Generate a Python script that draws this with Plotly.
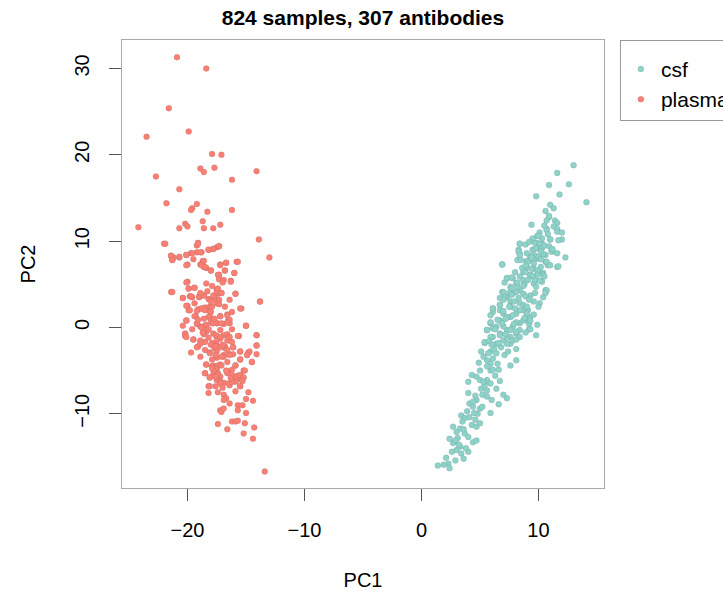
import plotly.graph_objects as go

title_text = "824 samples, 307 antibodies"
groups = ["csf", "plasma"]
colors = {"csf": "#8DD3C7", "plasma": "#FB8072"}
x_ticks = [-20, -10, 0, 10]
y_ticks = [-10, 0, 10, 20, 30]

plasma_pc1 = [
    -20.9, -18.4, -21.6, -19.9, -23.5, -17.9, -17.1, -18.9, -17.7, -18.6, -14.1, -22.7, -16.2, -20.7,
    -21.8, -19.2, -19.6, -19.7, -18.3, -16.2, -18.7, -24.2, -20.7, -20.2, -20.0, -18.6, -17.8, -17.2,
    -13.9, -22.0, -19.1, -19.2, -17.3, -17.5, -18.2, -17.8, -20.1, -19.7, -19.2, -18.8, -21.4, -21.3,
    -21.2, -20.7, -13.0, -18.7, -18.9, -18.6, -18.4, -20.0, -17.2, -16.7, -15.8, -18.0, -16.8, -16.0,
    -17.3, -17.3, -16.3, -20.0, -21.4, -19.9, -19.4, -17.5, -17.4, -17.1, -15.9, -20.4, -19.8, -19.6,
    -19.0, -18.6, -18.2, -17.7, -13.8, -20.0, -19.9, -19.1, -18.8, -18.5, -18.1, -18.1, -15.4, -19.3,
    -18.1, -17.2, -16.6, -20.1, -16.5, -16.4, -19.2, -18.9, -18.5, -17.9, -17.5, -16.9, -15.0, -20.2,
    -20.2, -18.4, -17.8, -17.5, -16.9, -16.6, -15.6, -14.1,
    -17.2, -16.4, -19.5, -18.9, -18.5, -19.1, -17.9, -17.5, -17.7, -14.1, -16.1, -16.8, -18.1, -17.5,
    -16.9, -16.4, -16.1, -15.5, -14.8, -14.9, -14.1, -17.5, -16.9, -15.5, -14.5, -18.4, -17.8, -17.2,
    -17.5, -15.9, -18.5, -17.8, -17.4, -17.2, -17.5, -17.2, -16.5, -16.2, -15.2, -16.1, -15.7, -15.4,
    -15.5, -18.1, -16.9, -16.4, -15.9, -18.2, -15.5, -18.2, -17.4, -16.9, -16.7, -16.9, -15.9, -14.8,
    -15.0, -14.4, -16.4, -15.7, -15.3, -17.2, -17.1, -16.9, -15.7, -15.0, -17.4, -16.2, -15.9, -15.7,
    -15.1, -16.6, -14.3, -15.2, -14.4, -13.4,
    -21.9, -19.1, -17.3, -17.8, -18.2, -18.9, -19.6, -20.1, -21.4, -21.3, -20.7, -18.6, -18.8, -18.5,
    -18.0, -20.1, -17.2, -16.7, -15.7, -16.8, -16.0, -17.4, -17.3, -16.9, -16.3, -20.1, -21.3, -19.9,
    -19.4, -19.7, -20.4, -19.0, -18.6, -18.1, -17.8, -17.5, -17.4, -17.1, -17.3, -17.5, -15.9, -13.8,
    -20.1, -19.8, -19.2, -18.8, -18.5, -17.9, -18.0, -15.5, -19.4, -20.1, -18.2, -18.0, -17.2, -16.6,
    -16.4, -16.6, -17.5, -17.8, -17.1, -19.2, -18.8, -18.4, -18.2, -15.0, -20.2, -20.1, -19.5, -18.9,
    -18.6, -17.6, -17.5, -17.2, -16.6, -16.4, -16.2, -15.7, -14.1, -19.2, -18.9, -18.0, -17.6, -17.2,
    -16.8, -16.1, -14.1, -18.1, -17.6, -17.1, -16.4, -15.5, -14.7, -14.9, -15.5, -14.5, -18.4, -17.9,
    -17.4, -17.6, -17.1, -15.9, -18.5, -17.8, -17.4, -17.6, -18.1, -16.6, -16.2, -15.8, -15.5, -15.1,
    -15.2, -18.1, -17.2, -16.5, -16.2, -15.5,
    -19.5, -18.4, -17.9, -18.9, -18.0, -17.3, -19.4, -16.8, -18.6, -17.7, -16.2, -19.6, -18.7, -17.2,
    -16.2, -18.2, -16.6, -17.0, -18.5, -19.7, -17.9, -16.6, -18.9, -16.7, -17.6, -16.3, -17.9, -17.0,
    -15.3, -20.4, -19.1, -17.0, -18.3, -16.4,
]
plasma_pc2 = [
    31.3, 30.0, 25.4, 22.7, 22.1, 20.1, 20.0, 18.4, 18.5, 18.0, 18.1, 17.5, 17.1, 16.0,
    14.4, 14.3, 13.8, 13.6, 13.4, 13.6, 12.3, 11.6, 11.5, 12.0, 11.7, 11.5, 11.5, 11.9,
    10.2, 9.7, 9.8, 9.5, 9.4, 9.3, 9.0, 9.1, 8.4, 8.6, 8.7, 8.7, 8.3, 7.8,
    8.1, 8.1, 8.1, 7.7, 7.3, 7.0, 6.9, 7.3, 7.3, 7.5, 7.6, 6.6, 6.6, 6.3,
    6.1, 5.6, 5.4, 5.3, 4.1, 4.5, 4.6, 4.4, 3.9, 4.0, 3.9, 3.4, 3.6, 3.5,
    3.5, 3.7, 3.3, 3.4, 3.0, 2.5, 2.0, 2.1, 2.2, 2.3, 2.4, 1.9, 2.2, 1.3,
    1.3, 1.3, 1.5, 0.8, 0.9, 0.5, 0.4, 0.1, 0.2, 0.5, 0.5, 0.4, 0.2, -0.7,
    -1.0, -0.5, -0.7, -1.0, -0.9, -0.8, -1.0, -0.9,
    -1.3, -1.5, -1.4, -1.8, -1.7, -2.2, -1.8, -2.1, -2.4, -2.1, -2.3, -2.2, -2.9, -2.8,
    -3.2, -3.1, -3.1, -2.8, -2.9, -3.2, -3.1, -3.5, -3.4, -3.7, -4.0, -4.3, -4.4, -4.3,
    -4.8, -4.4, -5.3, -5.5, -5.3, -5.7, -6.1, -6.3, -5.1, -4.9, -5.0, -5.7, -5.6, -5.7,
    -6.0, -5.8, -6.4, -6.7, -6.3, -6.8, -6.8, -7.6, -7.5, -7.8, -8.2, -8.4, -7.4, -7.5,
    -8.3, -8.5, -8.8, -9.0, -9.0, -9.6, -9.8, -9.4, -9.6, -9.9, -11.2, -10.9, -10.9, -10.8,
    -11.1, -11.8, -11.6, -12.3, -12.9, -16.7,
    9.7, 9.7, 9.4, 9.1, 9.0, 8.7, 8.6, 8.4, 8.3, 7.8, 8.2, 7.7, 7.2, 7.0,
    6.6, 7.2, 7.2, 7.5, 7.6, 6.6, 6.3, 6.1, 5.6, 5.5, 5.3, 5.2, 4.1, 4.5,
    4.6, 3.6, 3.4, 3.6, 3.7, 3.2, 3.7, 4.1, 4.5, 4.0, 3.2, 2.8, 3.9, 3.0,
    2.5, 2.0, 1.9, 2.2, 2.0, 2.4, 1.8, 2.2, 1.3, 0.8, 1.2, 0.8, 1.3, 1.4,
    0.9, 0.6, 0.5, 0.5, 0.5, 0.5, 0.0, 0.3, -0.2, 0.2, -0.8, -1.1, -1.4, -1.5,
    -0.8, -0.9, -1.5, -1.1, -1.5, -1.1, -1.7, -1.0, -0.9, -2.3, -1.9, -2.0, -2.2, -2.3,
    -2.4, -2.3, -2.1, -3.0, -3.2, -3.4, -3.2, -2.8, -2.8, -3.2, -3.7, -4.0, -4.3, -4.5,
    -4.4, -4.8, -4.4, -4.4, -5.3, -5.0, -5.5, -5.7, -5.8, -5.3, -5.5, -5.7, -5.5, -5.0,
    -5.8, -6.8, -6.5, -6.5, -6.3, -6.8,
    7.9, 5.1, 4.8, 4.0, 3.0, 2.7, 2.8, 2.4, 1.0, 1.0, 1.8, -0.2, -0.6, -0.3,
    -0.2, -1.2, -2.6, -2.0, -2.6, -2.9, -3.7, -4.0, -3.4, -5.0, -6.8, -5.9, -4.7, -7.0,
    -6.2, 0.2, 0.9, 5.2, 4.2, 3.2,
]

csf_pc1 = [
    13.0, 11.6, 12.6, 10.9, 14.1, 9.8, 11.8, 11.0, 10.6, 10.9, 10.7, 11.4, 11.6, 11.3, 11.6, 11.6,
    9.4, 10.7, 11.0, 12.0, 9.8, 10.3, 8.4, 9.5, 10.1, 8.3, 8.4, 11.2, 10.6, 12.3, 9.7, 10.0, 9.3,
    9.0, 8.2, 10.6, 10.8, 11.6, 6.9,
    7.3, 7.1, 6.9, 7.3, 7.6, 8.1, 7.8, 8.4, 8.7, 9.3, 9.6, 9.8, 10.4, 10.4, 10.1, 10.6, 6.1, 6.7,
    7.6, 8.4, 9.6, 10.0, 6.7, 6.1, 5.9,
    7.0, 7.6, 8.1, 8.7, 9.0, 8.4, 7.8, 7.3, 6.7, 6.4, 5.9, 5.6, 6.1, 7.0, 7.6, 8.1, 8.4, 9.2, 9.2,
    9.8, 9.3, 9.1, 5.4, 6.4, 7.6, 8.1,
    5.1, 5.9, 6.4, 7.1, 4.9, 5.6, 5.9, 7.6, 8.1, 5.9, 6.1, 6.6, 4.3, 4.7, 4.0, 5.0, 5.6, 5.9, 6.7,
    5.1, 5.6, 6.4, 4.0, 5.6, 6.0, 7.0, 7.3, 6.6, 4.1, 4.4, 4.7, 5.0, 5.2, 5.9, 3.4, 3.7, 4.1, 4.6,
    4.3, 4.7, 5.0, 2.7, 3.0, 3.3, 3.7, 4.0, 4.4, 4.7, 2.4, 2.7, 3.3, 3.0, 2.6, 3.4, 4.0, 3.6, 2.9,
    2.3, 1.9, 1.4, 2.4,
    10.7, 12.0, 11.0, 11.7, 8.4, 9.7, 10.1, 10.3, 9.6, 10.4, 11.1, 11.6, 8.3, 8.4, 9.3, 10.0, 9.6,
    9.1, 10.7, 11.0, 11.7, 6.9, 9.0, 9.6, 8.7, 10.0, 9.3, 10.4, 8.4, 7.8, 7.3, 9.7, 10.3, 10.7, 10.6,
    7.0, 7.7, 8.1, 8.7, 9.3, 7.1, 6.7, 6.1, 6.7, 7.6, 8.4, 9.0, 7.8, 7.3, 6.7, 8.1, 8.7, 9.3, 9.3,
    5.9, 5.6, 6.1, 7.0, 7.6, 8.1, 6.7, 5.9, 5.4, 7.8, 7.3, 8.4,
    9.8, 10.2, 10.5, 9.6, 10.2, 9.9, 9.4, 8.9, 8.6, 9.1, 8.8, 8.2, 8.9, 9.2, 8.7, 8.0, 7.5, 7.2,
    6.9, 7.9, 8.8, 9.6, 9.9, 8.9, 8.1, 7.3, 6.8, 7.4, 6.2, 5.8, 6.5, 7.0, 7.7, 8.0, 8.5, 9.0, 8.9,
    9.5, 10.1, 10.8, 10.3, 9.7, 10.1, 10.5, 6.1, 5.3, 5.0, 5.4, 4.6, 4.8, 3.9, 3.6, 3.1, 2.9, 3.8,
    6.3, 5.6,
    10.9, 11.3, 10.5, 9.9, 9.2, 8.9, 9.4, 8.2, 7.9, 7.5, 7.0, 6.6, 6.3, 8.3, 9.0, 9.9, 10.2, 7.2,
    6.5, 5.7, 5.2, 4.4, 3.5, 10.0, 10.9, 11.2, 9.5, 8.7, 7.7, 6.0, 5.3, 4.5, 3.2, 2.1,
]
csf_pc2 = [
    18.8, 17.9, 16.6, 16.5, 14.5, 15.2, 15.4, 14.2, 13.5, 12.8, 12.4, 12.4, 12.1, 11.7, 11.4, 11.1,
    11.9, 11.4, 10.2, 10.2, 9.8, 9.7, 9.7, 9.0, 9.1, 9.0, 8.5, 8.8, 8.4, 8.1, 8.3, 8.0, 8.0,
    7.7, 7.8, 7.6, 7.2, 7.0, 7.3,
    5.7, 5.2, 4.1, 3.5, 4.7, 5.1, 3.9, 4.3, 5.5, 5.9, 5.1, 4.7, 6.3, 3.5, 2.8, 4.3, 2.2, 2.6,
    3.0, 2.8, 3.0, 2.4, 2.6, 1.8, 1.4,
    1.6, 1.2, 1.6, 2.0, 0.8, 0.5, 0.1, -0.3, -0.7, 0.1, 0.5, -0.3, -1.1, -1.5, -1.1, -0.7, -0.3, 0.4, -0.2,
    -0.9, 1.2, 2.0, -1.8, -1.9, -1.9, -2.5,
    -2.8, -2.8, -3.0, -3.2, -4.1, -3.8, -4.2, -4.4, -3.8, -5.0, -4.9, -4.9, -5.5, -5.7, -6.3, -6.1, -6.1, -6.5, -6.2,
    -7.1, -7.3, -7.1, -7.6, -8.0, -8.4, -7.8, -8.2, -8.9, -8.8, -9.2, -8.4, -9.4, -9.2, -9.9, -10.2, -10.5, -10.4, -10.7,
    -11.3, -11.5, -11.1, -11.5, -12.1, -11.7, -12.3, -12.7, -13.3, -13.1, -12.9, -13.4, -13.8, -14.2, -14.4, -14.6, -14.4, -15.2, -15.4,
    -15.8, -15.9, -16.0, -16.3,
    11.3, 11.0, 10.2, 10.1, 9.7, 9.8, 9.7, 9.2, 9.0, 8.5, 8.8, 8.6, 8.8, 8.4, 8.3, 8.2, 7.8,
    7.6, 7.6, 7.2, 7.1, 7.3, 7.0, 6.8, 6.4, 6.4, 6.1, 6.1, 5.9, 5.7, 5.7, 5.5, 5.3, 4.3, 4.0,
    4.1, 4.5, 4.1, 3.9, 3.7, 3.5, 3.4, 2.2, 2.0, 2.4, 2.0, 1.6, 1.4, 1.2, 0.8, 0.6, 0.8, 0.8, -0.2,
    0.6, -0.3, -0.1, 0.1, -0.3, -0.5, -0.9, -1.1, -1.7, -1.5, -1.9, -1.1,
    9.2, 8.8, 9.5, 7.4, 7.0, 6.6, 6.8, 6.4, 6.9, 5.5, 5.0, 4.7, 3.6, 3.2, 2.6, 2.2, 2.4, 1.0,
    0.5, 0.4, 1.1, 1.5, 0.3, -0.6, -1.4, -1.2, -2.3, -2.8, -2.5, -1.6, 0.9, 3.2, 5.8, 6.4, 7.8, 8.6, 9.6,
    10.3, 11.0, 10.8, 10.3, 4.0, 5.4, 5.9, -3.6, -3.4, -5.0, -6.7, -7.9, -10.0, -9.7, -11.8, -12.8, -13.1, -14.0,
    -5.6, -4.5,
    12.9, 13.8, 11.8, 10.6, 9.9, 7.2, 8.1, 5.2, 3.0, 4.0, 1.9, -1.8, -0.2, 3.4, 2.4, 6.1, 7.9, -0.8,
    -4.2, -3.0, -7.8, -8.6, -10.9, 10.6, 9.4, 9.1, 6.0, 4.8, 3.8, -2.0, -6.3, -9.9, -13.6, -15.1,
]

data = {"csf": (csf_pc1, csf_pc2), "plasma": (plasma_pc1, plasma_pc2)}

FONT = "Liberation Sans, Arial, sans-serif"
fig = go.Figure()
for g in groups:
    xs, ys = data[g]
    fig.add_trace(go.Scatter(
        x=xs, y=ys, mode="markers", name=g, legendgroup=g,
        marker=dict(color=colors[g], size=6, symbol="circle",
                    line=dict(color="rgba(40,40,90,0.35)", width=0.3)),
    ))

fig.update_layout(
    width=723, height=592,
    margin=dict(l=122, r=119, t=40, b=104, autoexpand=False),
    paper_bgcolor="white", plot_bgcolor="white",
    font=dict(family=FONT, color="black", size=20),
    title=dict(text="<b>" + title_text + "</b>", x=0.5, xref="paper", xanchor="center",
               y=1 - 18 / 592, yref="container", yanchor="middle",
               font=dict(family=FONT, size=21, color="black")),
    showlegend=True,
    legend=dict(x=1.033, y=1.0, xanchor="left", yanchor="top",
                bordercolor="#999999", borderwidth=1, bgcolor="white",
                font=dict(family=FONT, size=21, color="black"),
                title=dict(text=" ", font=dict(size=6)),
                itemsizing="trace", traceorder="grouped", tracegroupgap=0),
)
fig.update_xaxes(
    range=[-25.6, 15.6], tickmode="array", tickvals=x_ticks,
    ticks="outside", ticklen=12, tickwidth=1, tickcolor="#555555",
    showline=True, mirror=True, linecolor="#aaaaaa", linewidth=1,
    showgrid=False, zeroline=False, ticklabelstandoff=12,
    tickfont=dict(family=FONT, size=20),
    title=dict(text="PC1", standoff=32, font=dict(family=FONT, size=20)),
)
fig.update_yaxes(
    range=[-18.6, 33.3], tickmode="array", tickvals=y_ticks, tickangle=-90,
    ticks="outside", ticklen=12, tickwidth=1, tickcolor="#555555",
    showline=True, mirror=True, linecolor="#aaaaaa", linewidth=1,
    showgrid=False, zeroline=False, ticklabelstandoff=12,
    tickfont=dict(family=FONT, size=20),
    title=dict(text="PC2", standoff=30, font=dict(family=FONT, size=20)),
)

fig.write_html("out.html")
